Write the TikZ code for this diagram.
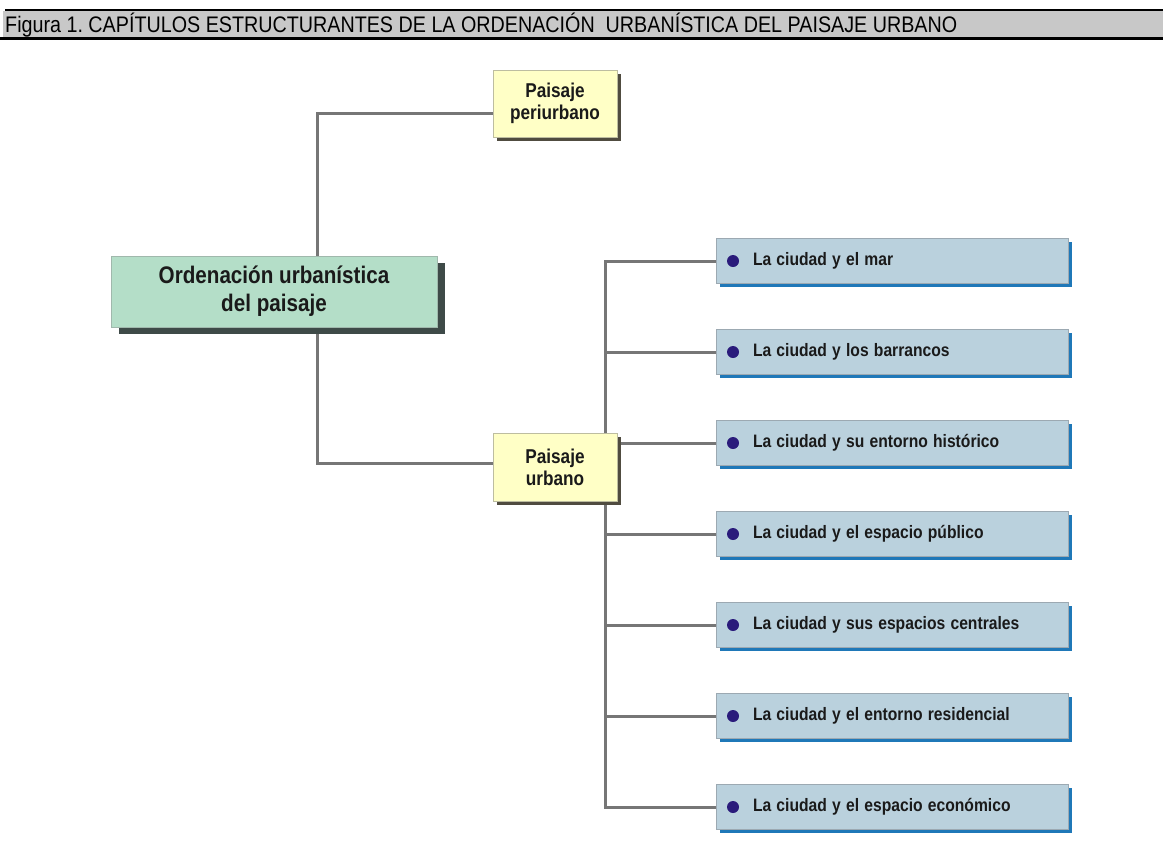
\documentclass[tikz,border=0pt]{standalone}
\usepackage{fontspec}
\setmainfont{Liberation Sans}
\frenchspacing
\newcommand{\sqz}[1]{\scalebox{0.86}[1]{#1}}
\usetikzlibrary{shadows,backgrounds}
\definecolor{mainfill}{HTML}{B4DEC8}
\definecolor{mainborder}{HTML}{A0B8AC}
\definecolor{mainshadow}{HTML}{3E4A48}
\definecolor{yfill}{HTML}{FFFFC6}
\definecolor{yborder}{HTML}{BDBDA0}
\definecolor{yshadow}{HTML}{504C40}
\definecolor{bfill}{HTML}{BAD1DD}
\definecolor{bborder}{HTML}{9CA9B2}
\definecolor{bshadow}{HTML}{1F78B8}
\definecolor{bullet}{HTML}{2A1B7B}
\definecolor{connc}{HTML}{767676}
\definecolor{txtc}{HTML}{1A1A1A}
\definecolor{hdrband}{HTML}{C8C8C8}
\begin{document}
\begin{tikzpicture}[x=1pt,y=-1pt,
  conn/.style={draw=connc, line width=3pt},
  mainbox/.style={fill=mainfill, draw=mainborder, line width=0.8pt,
    minimum width=326pt, minimum height=71pt, inner sep=0pt, align=center,
    font=\bfseries\fontsize{24}{28}\selectfont, text=txtc,
    drop shadow={shadow xshift=8pt, shadow yshift=-7pt, fill=mainshadow, opacity=1}},
  ybox/.style={fill=yfill, draw=yborder, line width=0.8pt,
    minimum width=124pt, minimum height=67pt, inner sep=0pt, align=center,
    font=\bfseries\fontsize{20}{22}\selectfont, text=txtc,
    drop shadow={shadow xshift=4pt, shadow yshift=-4pt, fill=yshadow, opacity=1}},
  bbox/.style={fill=bfill, draw=bborder, line width=0.8pt,
    text width=352pt, minimum height=45pt, inner xsep=0pt, inner ysep=0pt, align=left,
    font=\bfseries\fontsize{18}{20}\selectfont, text=txtc,
    drop shadow={shadow xshift=4pt, shadow yshift=-3pt, fill=bshadow, opacity=1},
    path picture={\fill[bullet] ([xshift=17pt]path picture bounding box.west) circle (6pt);}},
  hdr/.style={font=\fontsize{22.5}{24}\selectfont, text=black, inner sep=0pt, anchor=base west}
]
\useasboundingbox (0,0) rectangle (1163,868);
% header
\fill[hdrband] (3,11) rectangle (1163,37);
\draw[line width=1.5pt] (5,10) -- (1163,10);
\draw[line width=3pt] (0,38) -- (1163,38);
\node[hdr] (title) at (5,32.5) {\resizebox{952pt}{\height}{Figura 1. CAPÍTULOS ESTRUCTURANTES DE LA ORDENACIÓN\ \ URBANÍSTICA DEL PAISAJE URBANO}};
% nodes
\node[mainbox] (main) at (274,291.5) {\raisebox{-3pt}{\sqz{Ordenación urbanística}}\\\raisebox{-3pt}{\sqz{del paisaje}}};
\node[ybox] (peri) at (555,103.5) {\raisebox{-2pt}{\sqz{Paisaje}}\\\raisebox{-2pt}{\sqz{periurbano}}};
\node[ybox, minimum height=68pt] (urb) at (555,467) {\raisebox{-2pt}{\sqz{Paisaje}}\\\raisebox{-2pt}{\sqz{urbano}}};
\foreach \t [count=\i] in {La ciudad y el mar, La ciudad y los barrancos, La ciudad y su entorno histórico, La ciudad y el espacio público, La ciudad y sus espacios centrales, La ciudad y el entorno residencial, La ciudad y el espacio económico}
  \node[bbox] (b\i) at (892,{261+91*(\i-1)}) {\hspace*{37pt}\raisebox{-1.5pt}{\scalebox{0.87}[1]{\t}}};
\coordinate (k1) at (317,113);
\coordinate (k2) at (317,463);
\coordinate (tr) at (605,0);
\begin{scope}[on background layer]
  \draw[conn] (b1.west) -- (tr |- b1.west) -- (tr |- b7.west) -- (b7.west);
  \foreach \i in {2,...,6} \draw[conn] (tr |- b\i.west) -- (b\i.west);
  \draw[conn] (main.north -| k1) -- (k1) -- (k1 -| peri.west);
  \draw[conn] (main.south -| k2) -- (k2) -- (k2 -| urb.west);
\end{scope}
\end{tikzpicture}
\end{document}
